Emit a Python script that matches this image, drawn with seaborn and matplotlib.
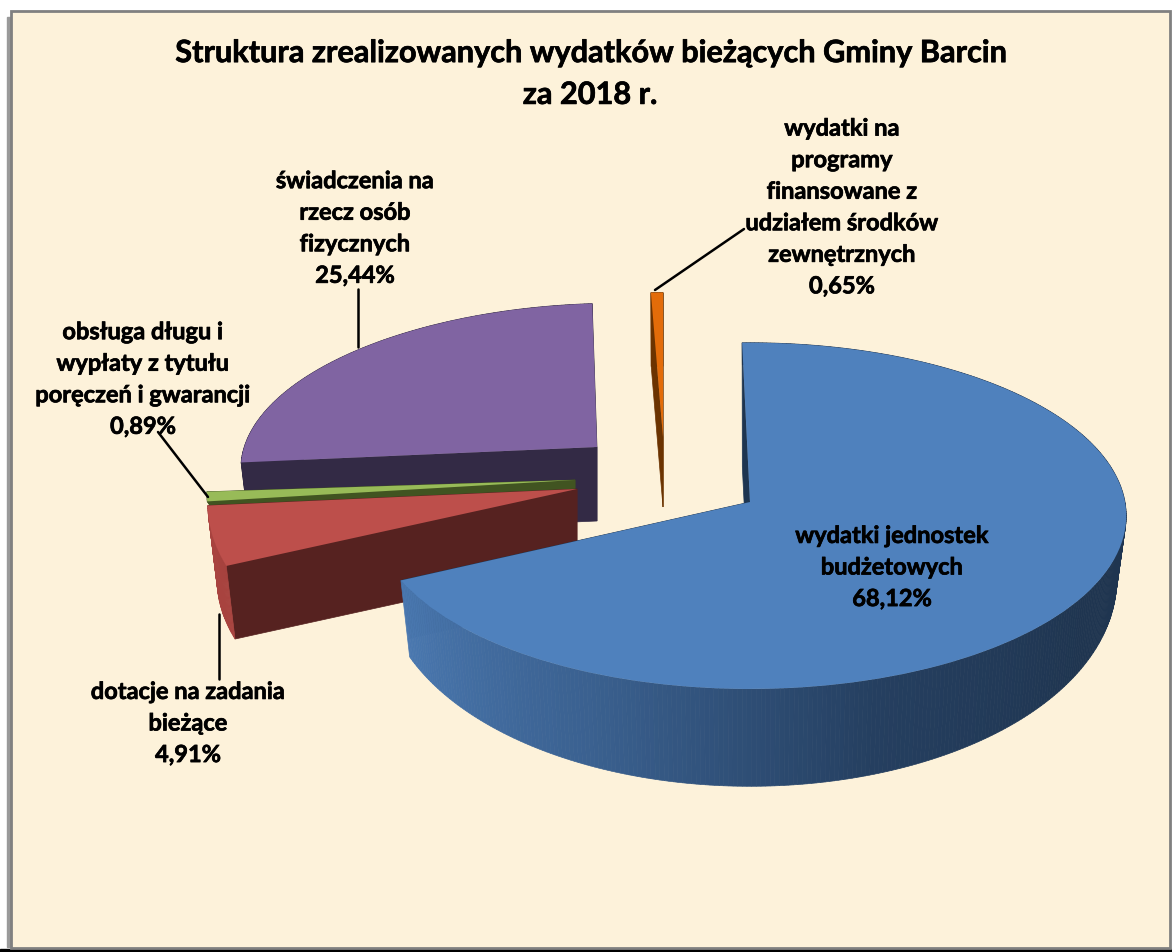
import numpy as np
import matplotlib
matplotlib.use("Agg")
import matplotlib.pyplot as plt
import matplotlib.patheffects as pe
from matplotlib.patches import Rectangle
from matplotlib.transforms import Affine2D, Transform
import seaborn as sns

sns.set_theme(style="white")
plt.rcParams["font.family"] = ["Lato", "DejaVu Sans"]

### data, clockwise from the top
title = "Struktura zrealizowanych wydatków bieżących Gminy Barcin\nza 2018 r."
names = ["wydatki jednostek\nbudżetowych",
         "dotacje na zadania\nbieżące",
         "obsługa długu i\nwypłaty z tytułu\nporęczeń i gwarancji",
         "świadczenia na\nrzecz osób\nfizycznych",
         "wydatki na\nprogramy\nfinansowane z\nudziałem środków\nzewnętrznych"]
shares = [68.12, 4.91, 0.89, 25.44, 0.65]

top_colors = ["#4f81bd", "#bd4f4b", "#98bb58", "#8064a2", "#e36c09"]
face_colors = ["#1e3550", "#562220", "#415421", "#332a45", "#6b3300"]
wall_colors = [["#4a78b0", "#3a608f", "#253f60", "#1f3550", "#1f3550", "#1f3550", "#1f3550"],
               ["#a8433f", "#a8433f"], ["#415421", "#415421"],
               ["#332a45", "#332a45"], ["#6b3300", "#6b3300"]]

# how each exploded slice sits on the page (pixels)
apex = [(750, 503), (577, 490), (575, 481), (597, 448), (663, 438)]
radius_x = [375, 368, 367, 355, 320]
radius_y = [172, 195, 171, 155, 156]
depth = [60, 75, 14, 74, 70]
start_depth = [120, 75, 14, 74, 70]
depth_front = [0.7, 0, 0, 0, 0]
turn = [1.3, -2.3, 0, -1.5, 0]
lean = [0, 0, 0, -0.025, 0]
draw_order = [3, 4, 2, 1, 0]

# label centre (x, y of middle of text block) on the page
label_at = [(892, 568), (188, 724), (143, 380), (355, 229), (842, 208)]
leaders = [None, ((219, 680), (219, 615)), ((158, 433), (208, 498)),
           ((358, 290), (358, 348)), ((744, 230), (655, 291))]

TILT = 0.08
SHRINK = 0.975


class Tilt(Transform):
    # flat unit pie seen from above, back part comes out smaller
    input_dims = 2
    output_dims = 2

    def transform_non_affine(self, values):
        values = np.asarray(values, dtype=float)
        return values / (1 + TILT * values[:, 1:2])


W, H = 1172, 953
fig = plt.figure(figsize=(W / 100, H / 100), dpi=100, facecolor="white")
ax = fig.add_axes([0, 0, 1, 1])

wedges, _ = ax.pie(shares, startangle=90, counterclock=False, radius=1,
                   colors=top_colors, wedgeprops={"linewidth": 0})

ax.set_aspect("auto")
ax.set_xlim(0, W)
ax.set_ylim(H, 0)
ax.axis("off")

# panel
ax.add_patch(Rectangle((0, 950), W, 4, color="black", zorder=0.1))
ax.add_patch(Rectangle((7, 18), 6, 930, color="#9a9a9a", zorder=0.2))
ax.add_patch(Rectangle((11, 12), 1159, 937, facecolor="#fdf2da",
                       edgecolor="#808080", linewidth=2, zorder=0.3))


def extrude(px, i, drop):
    out = np.array(apex[i]) + (px - np.array(apex[i])) * SHRINK
    out[:, 1] += drop
    return out


for rank, i in enumerate(draw_order):
    w = wedges[i]
    place = (Affine2D().rotate_deg(turn[i]) + Tilt()
             + Affine2D().scale(radius_x[i], -radius_y[i])
             + Affine2D.from_values(1, lean[i], 0, 1, 0, 0)
             + Affine2D().translate(*apex[i]))
    w.set_transform(place + ax.transData)
    w.set_zorder(10 * rank + 3)

    t1, t2 = np.radians(w.theta1), np.radians(w.theta2)

    # flat cut sides
    for t, drop in ((t1, depth[i]), (t2, start_depth[i])):
        unit = np.array([[0, 0], [np.cos(t), np.sin(t)]])
        px = place.transform(unit)
        low = extrude(px, i, drop)
        ax.fill([px[0, 0], px[1, 0], low[1, 0], low[0, 0]],
                [px[0, 1], px[1, 1], low[1, 1], low[0, 1]],
                color=face_colors[i], lw=0.5, zorder=10 * rank + 1)

    # round outer wall, shaded along its length
    steps = max(4, int(np.degrees(t2 - t1) * 1.5))
    cuts = np.linspace(t1, t2, steps + 1)
    unit = np.column_stack([np.cos(cuts), np.sin(cuts)])
    rim = place.transform(unit)
    rot = np.radians(turn[i])
    low = extrude(rim, i, depth[i] * (1 - depth_front[i] * np.sin(cuts + rot)))
    shades = sns.blend_palette(wall_colors[i], steps)
    for k in range(steps):
        ax.fill([rim[k, 0], rim[k + 1, 0], low[k + 1, 0], low[k, 0]],
                [rim[k, 1], rim[k + 1, 1], low[k + 1, 1], low[k, 1]],
                color=shades[k], lw=0.5, zorder=10 * rank + 2)

# texts
heavier = [pe.withStroke(linewidth=0.5, foreground="black")]
ax.text(590, 75, title, ha="center", va="center", fontsize=22.1,
        fontweight="bold", color="black", linespacing=1.6, zorder=100,
        path_effects=heavier)
for i, name in enumerate(names):
    text = name + "\n" + f"{shares[i]:.2f}%".replace(".", ",")
    ax.text(label_at[i][0], label_at[i][1], text, ha="center", va="center",
            fontsize=17, fontweight="bold", color="black", linespacing=1.45,
            zorder=100, path_effects=heavier)
    if leaders[i]:
        (x0, y0), (x1, y1) = leaders[i]
        ax.plot([x0, x1], [y0, y1], color="black", lw=1.8, zorder=90)

fig.savefig("out.png", dpi=100)
